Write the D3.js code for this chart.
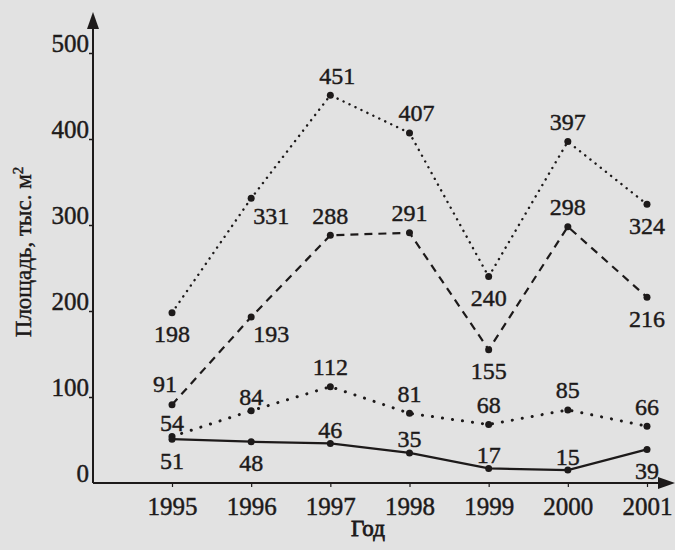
<!DOCTYPE html>
<html>
<head>
<meta charset="utf-8">
<script src="https://cdn.jsdelivr.net/npm/d3@7"></script>
<style>
  body { margin: 0; background: #e2e2e2; }
  svg text { font-family: "Liberation Serif", "DejaVu Serif", serif; fill: #1d1a1a; stroke: #1d1a1a; stroke-width: 0.45px; }
</style>
</head>
<body>
<div id="chart"></div>
<script>
// years on the x axis
var years = [1995, 1996, 1997, 1998, 1999, 2000, 2001];

// series values, thousand m2
var seriesTop    = [198, 331, 451, 407, 240, 397, 324];
var seriesDashed = [91, 193, 288, 291, 155, 298, 216];
var seriesDotted = [54, 84, 112, 81, 68, 85, 66];
var seriesSolid  = [51, 48, 46, 35, 17, 15, 39];

// where each value label sits relative to its point
var placeTop    = ["b", "br", "tr", "tr", "b", "t", "b"];
var placeDashed = ["tl", "br", "t", "t", "b", "t", "b"];
var placeDotted = ["tt", "tt", "t", "t", "t", "t", "t"];
var placeSolid  = ["b", "b", "tt", "tt", "tt", "tt", "b"];

var yTicks = [0, 100, 200, 300, 400, 500];

var W = 675, H = 550;
var ink = "#1d1a1a";

var svg = d3.select("#chart")
  .append("svg")
    .attr("width", W)
    .attr("height", H);

var x = d3.scaleLinear().domain([1995, 2001]).range([172, 647]);
var y = d3.scaleLinear().domain([0, 500]).range([483, 53]);

var axisX0 = 93;

// y axis ticks + labels
var gy = svg.append("g")
  .attr("transform", "translate(" + axisX0 + ",0)")
  .call(d3.axisLeft(y).tickValues(yTicks).tickSize(4).tickFormat(d3.format("d")));
gy.select(".domain").remove();
gy.selectAll(".tick line").attr("stroke", ink).attr("stroke-width", 1.5);
gy.selectAll(".tick text")
  .attr("x", -4)
  .attr("dy", "-0.05em")
  .style("font-size", "25px")
  .style("fill", ink);
gy.selectAll(".tick").filter(function(d) { return d === 0; }).select("line").remove();

// x axis ticks + labels
var gx = svg.append("g")
  .attr("transform", "translate(0," + y(0) + ")")
  .call(d3.axisBottom(x).tickValues(years).tickSize(4).tickFormat(d3.format("d")));
gx.select(".domain").remove();
gx.selectAll(".tick line").attr("stroke", ink).attr("stroke-width", 1.2);
gx.selectAll(".tick text")
  .attr("y", 13)
  .attr("dy", "0.75em")
  .style("font-size", "25px")
  .style("fill", ink);

// axis lines with arrows
svg.append("line")
  .attr("x1", axisX0).attr("y1", y(0))
  .attr("x2", axisX0).attr("y2", 22)
  .attr("stroke", ink).attr("stroke-width", 2);
svg.append("path")
  .attr("d", "M" + axisX0 + ",12 L" + (axisX0 - 6) + ",29 L" + (axisX0 + 6) + ",29 Z")
  .attr("fill", ink);

svg.append("line")
  .attr("x1", axisX0).attr("y1", y(0))
  .attr("x2", 662).attr("y2", y(0))
  .attr("stroke", ink).attr("stroke-width", 2);
svg.append("path")
  .attr("d", "M675," + y(0) + " L658," + (y(0) - 6) + " L658," + (y(0) + 6) + " Z")
  .attr("fill", ink);

// axis titles
svg.append("text")
  .attr("transform", "translate(31,252) rotate(-90)")
  .style("text-anchor", "middle")
  .style("font-size", "23px")
  .html("Площадь, тыс. м<tspan dy='-8' font-size='15px'>2</tspan>");

svg.append("text")
  .attr("x", 368)
  .attr("y", 536)
  .style("text-anchor", "middle")
  .style("font-size", "23px")
  .style("stroke-width", "0.8px")
  .text("Год");

// label offsets for the placement codes
var offs = {
  t:  [0, -20],
  tt: [0, -14],
  tr: [7, -20],
  tl: [-7, -21],
  b:  [0, 21],
  br: [20, 17]
};

var series = [
  { values: seriesTop,    place: placeTop,    dash: "0.1,6.5", width: 2.4, cap: "round" },
  { values: seriesDashed, place: placeDashed, dash: "8,6",     width: 2.2, cap: "butt" },
  { values: seriesDotted, place: placeDotted, dash: "0.1,10",  width: 3,   cap: "round" },
  { values: seriesSolid,  place: placeSolid,  dash: null,      width: 2.3, cap: "butt" }
];

var line = d3.line()
  .x(function(d, i) { return x(years[i]); })
  .y(function(d) { return y(d); });

series.forEach(function(s) {
  svg.append("path")
    .datum(s.values)
    .attr("d", line)
    .attr("fill", "none")
    .attr("stroke", ink)
    .attr("stroke-width", s.width)
    .attr("stroke-linecap", s.cap)
    .attr("stroke-dasharray", s.dash);

  svg.selectAll(null)
    .data(s.values)
    .enter().append("circle")
      .attr("cx", function(d, i) { return x(years[i]); })
      .attr("cy", function(d) { return y(d); })
      .attr("r", 3.5)
      .attr("fill", ink);

  svg.selectAll(null)
    .data(s.values)
    .enter().append("text")
      .attr("x", function(d, i) { return x(years[i]) + offs[s.place[i]][0]; })
      .attr("y", function(d, i) { return y(d) + offs[s.place[i]][1]; })
      .attr("dy", "0.35em")
      .style("text-anchor", "middle")
      .style("font-size", "24px")
      .text(function(d) { return d; });
});
</script>
</body>
</html>
